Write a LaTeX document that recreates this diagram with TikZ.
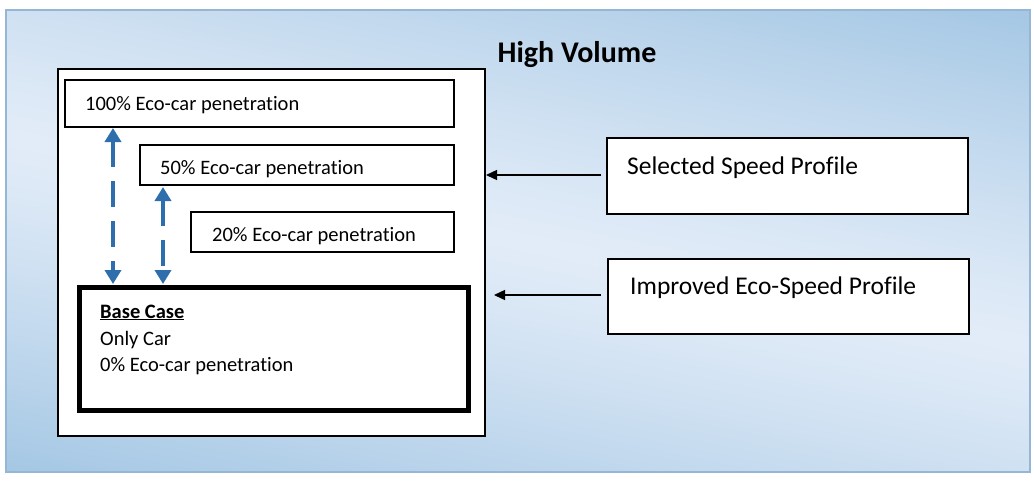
\documentclass[tikz,border=0pt]{standalone}
\usepackage{fontspec}
\setmainfont[Ligatures=NoCommon]{Carlito}
\usetikzlibrary{arrows.meta}
\definecolor{panelline}{RGB}{150,182,214}
\definecolor{arrowblue}{RGB}{46,110,172}
% backdrop: light along the anti-diagonal, bluer towards lower left and upper right
% (the y factor accounts for the panel being about 2.2 times wider than tall)
\pgfdeclarefunctionalshading{backdrop}{\pgfpoint{-50bp}{-50bp}}{\pgfpoint{50bp}{50bp}}{}{
  2.216 mul add 100 div abs
  dup 1 gt {pop 1} if
  dup 0.2 exp mul
  dup 80 mul 226 exch sub 255 div
  exch dup 48 mul 236 exch sub 255 div
  exch 26 mul 248 exch sub 255 div
}
\tikzset{
  x=1pt, y=-1pt,
  panelbox/.style={draw=black, line width=1.3pt, fill=white},
  stagebox/.style={draw=black, line width=1.3pt, fill=white},
  label/.style={anchor=base west, font=\fontsize{20.5}{24}\selectfont, inner sep=0pt},
  biglabel/.style={anchor=base west, font=\fontsize{25.5}{30}\selectfont, inner sep=0pt},
  bluearrow/.style={draw=arrowblue, line width=4.5pt, dash pattern=on 26pt off 14pt,
    {Triangle[length=14pt,width=16pt]}-{Triangle[length=14pt,width=16pt]}},
  feed/.style={draw=black, line width=1.4pt, -{Triangle[length=11pt,width=10pt]}},
}
\begin{document}
\begin{tikzpicture}
\useasboundingbox (0,0) rectangle (1034,483);
\fill[white] (0,0) rectangle (1034,483);
% shaded backdrop panel
\shade[shading=backdrop] (6,10) rectangle (1030,472);
\draw[panelline, line width=1.5pt] (6,10) rectangle (1030,472);

\node[font=\bfseries\fontsize{30}{36}\selectfont, anchor=base, inner sep=0pt] (title) at (577,62) {High Volume};

% container of the scenarios
\path[panelbox] (58,69) rectangle (485,436);

% penetration levels
\draw[stagebox] (65,80) rectangle (454,127);
\node[label] (p100) at (85,110) {100\% Eco-car penetration};
\draw[stagebox] (140,145) rectangle (454,185);
\node[label] (p50) at (160,174) {50\% Eco-car penetration};
\draw[stagebox] (191,212) rectangle (454,252);
\node[label] (p20) at (212,241) {20\% Eco-car penetration};

% base case
\draw[draw=black, line width=5pt, fill=white] (79,287) rectangle (468,410);
\node[label, font=\bfseries\fontsize{20.5}{24}\selectfont] (base) at (100,318) {\underline{Base Case}};
\node[label] (only) at (100,345) {Only Car};
\node[label] (zero) at (100,371) {0\% Eco-car penetration};

% links between levels and base case
\coordinate (a1t) at (113,128);
\coordinate (a1b) at (113,284);
\coordinate (a2t) at (163,187);
\coordinate (a2b) at (163,284);
\draw[bluearrow] (a1t) -- (a1b);
\draw[bluearrow] (a2t) -- (a2b);

% speed profiles
\draw[draw=black, line width=1.3pt, fill=white] (607,138) rectangle (968,214);
\node[biglabel] (sel) at (627,174) {Selected Speed Profile};
\draw[draw=black, line width=1.3pt, fill=white] (608,259) rectangle (969,334);
\node[biglabel] (imp) at (630,294) {Improved Eco-Speed Profile};

\coordinate (selL) at (601,175);
\coordinate (selT) at (486,175);
\coordinate (impL) at (601,295);
\coordinate (impT) at (494,295);
\draw[feed] (selL) -- (selT);
\draw[feed] (impL) -- (impT);
\end{tikzpicture}
\end{document}
